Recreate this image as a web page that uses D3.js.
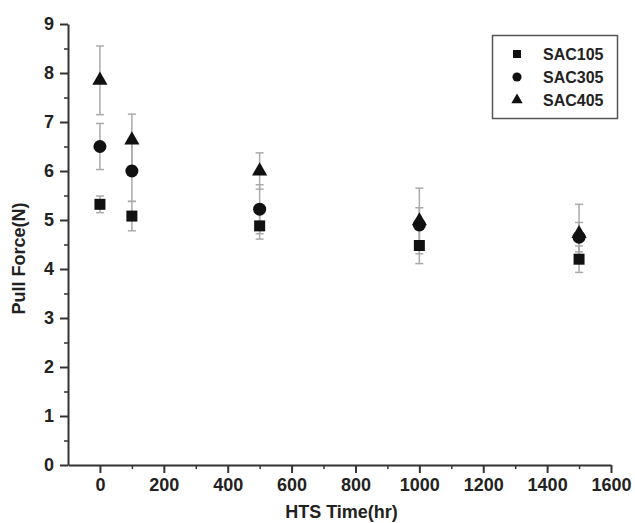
<!DOCTYPE html>
<html>
<head>
<meta charset="utf-8">
<script src="https://cdn.jsdelivr.net/npm/d3@7"></script>
<style>
  body { margin: 0; background: #fff; }
  svg { display: block; font-family: "Liberation Sans", Arial, sans-serif; }
  .axis path, .axis line { stroke: #333; }
  .axis text { font-size: 18px; font-weight: bold; fill: #222; }
</style>
</head>
<body>
<svg id="chart"></svg>
<script>
// Données
const times = [0, 100, 500, 1000, 1500];
const seriesNames = ["SAC105", "SAC305", "SAC405"];
const sac105 = [5.32, 5.08, 4.88, 4.48, 4.2];
const sac105Err = [0.17, 0.3, 0.27, 0.37, 0.27];
const sac305 = [6.5, 6.0, 5.22, 4.9, 4.65];
const sac305Err = [0.47, 0.62, 0.5, 0.35, 0.3];
const sac405 = [7.85, 6.63, 6.0, 4.98, 4.72];
const sac405Err = [0.7, 0.53, 0.37, 0.67, 0.6];
const xTicks = [0, 200, 400, 600, 800, 1000, 1200, 1400, 1600];
const yTicks = [0, 1, 2, 3, 4, 5, 6, 7, 8, 9];

const width = 635, height = 523;
const margin = {top: 24, right: 24, bottom: 58, left: 68};

const svg = d3.select('#chart')
    .attr('width', width)
    .attr('height', height);

const x = d3.scaleLinear().domain([-100, 1600]).range([margin.left, width - margin.right]);
const y = d3.scaleLinear().domain([0, 9]).range([height - margin.bottom, margin.top]);

// Axes : petits traits d'abord
svg.append('g')
    .attr('class', 'axis')
    .attr('transform', `translate(0,${y(0)})`)
    .call(d3.axisBottom(x).tickValues(d3.range(100, 1600, 200)).tickSize(4).tickFormat(''))
    .call(g => g.select('.domain').remove())
    .selectAll('line').attr('stroke-width', 1.5);

svg.append('g')
    .attr('class', 'axis')
    .attr('transform', `translate(${x(-100)},0)`)
    .call(d3.axisLeft(y).tickValues(d3.range(0.5, 9, 1)).tickSize(4).tickFormat(''))
    .call(g => g.select('.domain').remove())
    .selectAll('line').attr('stroke-width', 1.5);

const xAxis = svg.append('g')
    .attr('class', 'axis')
    .attr('transform', `translate(0,${y(0)})`)
    .call(d3.axisBottom(x).tickValues(xTicks).tickFormat(d3.format('d'))
        .tickSize(8).tickSizeOuter(0).tickPadding(5));
xAxis.select('.domain').attr('stroke-width', 2);
xAxis.selectAll('.tick line').attr('stroke-width', 2);

const yAxis = svg.append('g')
    .attr('class', 'axis')
    .attr('transform', `translate(${x(-100)},0)`)
    .call(d3.axisLeft(y).tickValues(yTicks).tickFormat(d3.format('d'))
        .tickSize(8).tickSizeOuter(0).tickPadding(6));
yAxis.select('.domain').attr('stroke-width', 2);
yAxis.selectAll('.tick line').attr('stroke-width', 2);

// Titres des axes
svg.append('text')
    .attr('x', (x(-100) + x(1600)) / 2 + 2)
    .attr('y', 518)
    .attr('text-anchor', 'middle')
    .style('font-size', '18px')
    .style('font-weight', 'bold')
    .attr('fill', '#222')
    .text('HTS Time(hr)');

svg.append('text')
    .attr('transform', `translate(25,${(y(0) + y(9)) / 2 + 14}) rotate(-90)`)
    .attr('text-anchor', 'middle')
    .style('font-size', '18px')
    .style('font-weight', 'bold')
    .attr('fill', '#222')
    .text('Pull Force(N)');

// Séries
const series = [
    {name: seriesNames[0], values: sac105, err: sac105Err, symbol: d3.symbolSquare, size: 121, legendSize: 64},
    {name: seriesNames[1], values: sac305, err: sac305Err, symbol: d3.symbolCircle, size: 133, legendSize: 66},
    {name: seriesNames[2], values: sac405, err: sac405Err, symbol: d3.symbolTriangle, size: 100, legendSize: 56}
];

// Barres d'erreur
series.forEach(s => {
    const g = svg.append('g').attr('stroke', '#aaa').attr('stroke-width', 1.5);
    times.forEach((t, i) => {
        const cx = x(t);
        const lo = y(s.values[i] - s.err[i]);
        const hi = y(s.values[i] + s.err[i]);
        g.append('line').attr('x1', cx).attr('x2', cx).attr('y1', lo).attr('y2', hi);
        g.append('line').attr('x1', cx - 4).attr('x2', cx + 4).attr('y1', lo).attr('y2', lo);
        g.append('line').attr('x1', cx - 4).attr('x2', cx + 4).attr('y1', hi).attr('y2', hi);
    });
});

// Points
series.forEach(s => {
    svg.append('g')
        .selectAll('path')
        .data(times.map((t, i) => ({t, v: s.values[i]})))
        .enter()
        .append('path')
        .attr('d', d3.symbol().type(s.symbol).size(s.size))
        .attr('transform', d => `translate(${x(d.t)},${y(d.v)})`)
        .attr('fill', '#111');
});

// Légende
const legend = svg.append('g');
legend.append('rect')
    .attr('x', 492.5).attr('y', 35.5)
    .attr('width', 125).attr('height', 83)
    .attr('fill', 'none')
    .attr('stroke', '#555')
    .attr('stroke-width', 1.5);

series.forEach((s, i) => {
    const ly = 54 + i * 23;
    legend.append('path')
        .attr('d', d3.symbol().type(s.symbol).size(s.legendSize))
        .attr('transform', `translate(517,${ly})`)
        .attr('fill', '#111');
    legend.append('text')
        .attr('x', 543)
        .attr('y', ly + 6)
        .style('font-size', '16px')
        .style('font-weight', 'bold')
        .attr('fill', '#222')
        .text(s.name);
});
</script>
</body>
</html>
